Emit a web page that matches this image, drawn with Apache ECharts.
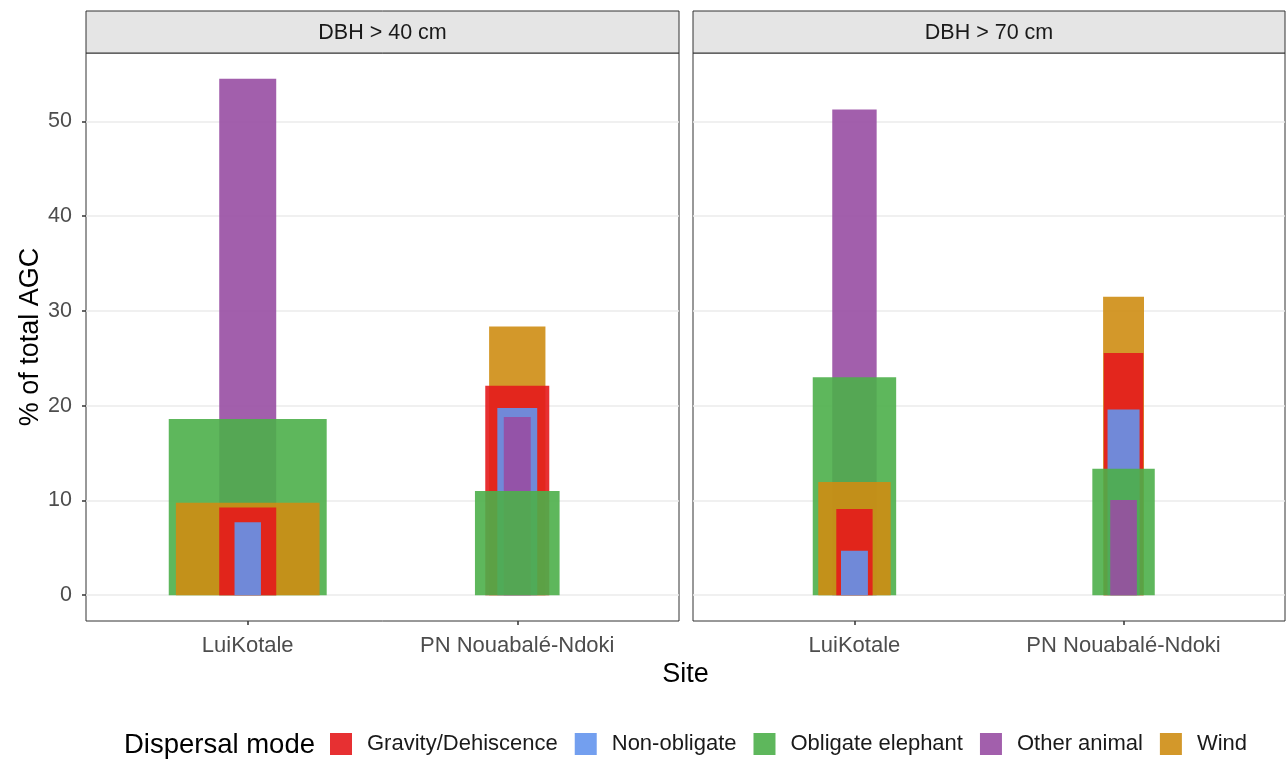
<!DOCTYPE html>
<html><head><meta charset="utf-8">
<script src="https://cdn.jsdelivr.net/npm/echarts@6/dist/echarts.min.js"></script>
<style>html,body{margin:0;padding:0;background:#fff}#c{width:1287px;height:759px}</style>
</head><body><div id="c"></div><script>
// ---- data ----
const sites = ['LuiKotale', 'PN Nouabalé-Ndoki'];
const panels = ['DBH > 40 cm', 'DBH > 70 cm'];
const modes = ['Gravity/Dehiscence', 'Non-obligate', 'Obligate elephant', 'Other animal', 'Wind'];
const yTicks = [0, 10, 20, 30, 40, 50];

// % of total AGC per site [LuiKotale, PN Nouabalé-Ndoki]
const gravity40 = [9.25, 22.1];
const nonObligate40 = [7.7, 19.75];
const elephant40 = [18.6, 11.0];
const otherAnimal40 = [54.5, 18.8];
const wind40 = [9.75, 28.35];

const gravity70 = [9.1, 25.55];
const nonObligate70 = [4.7, 19.6];
const elephant70 = [23.0, 13.35];
const otherAnimal70 = [51.25, 10.05];
const wind70 = [11.95, 31.5];

// relative bar width (in x-axis units) per site
const gravityW40 = [0.2115, 0.2375];
const nonObligateW40 = [0.098, 0.148];
const elephantW40 = [0.586, 0.314];
const otherAnimalW40 = [0.2115, 0.10];
const windW40 = [0.533, 0.209];

const gravityW70 = [0.135, 0.147];
const nonObligateW70 = [0.10, 0.119];
const elephantW70 = [0.31, 0.232];
const otherAnimalW70 = [0.165, 0.099];
const windW70 = [0.269, 0.152];

// ---- styling ----
const colors = ['rgba(228,26,28,0.9)', 'rgba(100,149,237,0.9)', 'rgba(77,175,74,0.9)', 'rgba(152,78,163,0.9)', 'rgba(206,141,19,0.9)'];
const FONT = 'Liberation Sans, Arial, Helvetica, sans-serif';
const valuesByPanel = [
  [gravity40, nonObligate40, elephant40, otherAnimal40, wind40],
  [gravity70, nonObligate70, elephant70, otherAnimal70, wind70]
];
const widthsByPanel = [
  [gravityW40, nonObligateW40, elephantW40, otherAnimalW40, windW40],
  [gravityW70, nonObligateW70, elephantW70, otherAnimalW70, windW70]
];

let maxV = 0;
valuesByPanel.forEach(p => p.forEach(a => a.forEach(v => { if (v > maxV) maxV = v; })));
const yMin = -0.05 * maxV, yMax = maxV * 1.05;

const gridTop = 53, gridBottomY = 621;
const grids = [
  { left: 86, top: gridTop, width: 593, height: gridBottomY - gridTop },
  { left: 693, top: gridTop, width: 592, height: gridBottomY - gridTop }
];

const xAxes = grids.map((g, i) => ({
  type: 'value', gridIndex: i, min: 0.4, max: 2.6, position: 'bottom',
  axisLine: { show: false, onZero: false },
  splitLine: { show: false },
  axisTick: { show: true, customValues: [1, 2], length: 4, lineStyle: { color: '#333', width: 1.5 } },
  axisLabel: { customValues: [1, 2], formatter: v => sites[Math.round(v) - 1] || '', color: '#4D4D4D', fontSize: 22, fontFamily: FONT, margin: 14 }
}));
const yAxes = grids.map((g, i) => ({
  type: 'value', gridIndex: i, min: yMin, max: yMax, position: 'left',
  axisLine: { show: false, onZero: false },
  axisTick: { show: i === 0, customValues: yTicks, length: 4, lineStyle: { color: '#333', width: 1.5 } },
  axisLabel: { show: i === 0, customValues: yTicks, color: '#4D4D4D', fontSize: 21.5, fontFamily: FONT, margin: 14, padding: [6, 0, 0, 0] },
  splitLine: { show: true, lineStyle: { color: '#EBEBEB', width: 1.5 } }
}));

const series = [];
for (let p = 0; p < 2; p++) {
  for (let m = 0; m < modes.length; m++) {
    const vals = valuesByPanel[p][m], ws = widthsByPanel[p][m];
    const col = colors[m];
    series.push({
      type: 'custom', name: modes[m], xAxisIndex: p, yAxisIndex: p,
      itemStyle: { color: col },
      data: vals.map((v, k) => [k + 1, v, ws[k]]),
      renderItem: (params, api) => {
        const x = api.value(0), y = api.value(1), w = api.value(2);
        const a = api.coord([x - w / 2, y]);
        const b = api.coord([x + w / 2, 0]);
        return {
          type: 'rect',
          shape: { x: a[0], y: a[1], width: b[0] - a[0], height: b[1] - a[1] },
          style: { fill: col },
          z2: Math.round(100000 - y * 100)
        };
      }
    });
  }
}

const graphics = [];
grids.forEach((g, i) => {
  graphics.push({ type: 'rect', shape: { x: g.left, y: 11, width: g.width, height: gridTop - 11 },
    style: { fill: '#E5E5E5', stroke: '#333', lineWidth: 1 }, z: 10 });
  graphics.push({ type: 'text', x: g.left + g.width / 2, y: 33.5,
    style: { text: panels[i], fill: '#1A1A1A', font: '21.5px ' + FONT, textAlign: 'center', textVerticalAlign: 'middle' }, z: 11 });
});
graphics.push({ type: 'text', x: 31, y: (gridTop + gridBottomY) / 2, rotation: Math.PI / 2,
  style: { text: '% of total AGC', fill: '#000', font: '27px ' + FONT, textAlign: 'center', textVerticalAlign: 'middle' } });
graphics.push({ type: 'text', x: (86 + 1285) / 2, y: 675,
  style: { text: 'Site', fill: '#000', font: '27px ' + FONT, textAlign: 'center', textVerticalAlign: 'middle' } });
graphics.push({ type: 'text', x: 315, y: 745,
  style: { text: 'Dispersal mode', fill: '#000', font: '27.5px ' + FONT, textAlign: 'right', textVerticalAlign: 'middle' } });

const chart = echarts.init(document.getElementById('c'), null, { renderer: 'canvas' });
chart.setOption({
  animation: false,
  backgroundColor: '#fff',
  color: colors,
  grid: grids.map(g => Object.assign({ show: true, borderColor: '#333', borderWidth: 1, backgroundColor: 'transparent' }, g)),
  xAxis: xAxes,
  yAxis: yAxes,
  legend: {
    data: modes, left: 330, top: 733, padding: 0, itemGap: 17,
    itemWidth: 22, itemHeight: 22, icon: 'rect',
    textStyle: { fontSize: 22, fontFamily: FONT, color: '#1A1A1A', padding: [0, 0, 0, 10] }
  },
  graphic: graphics,
  series: series
});
</script></body></html>
